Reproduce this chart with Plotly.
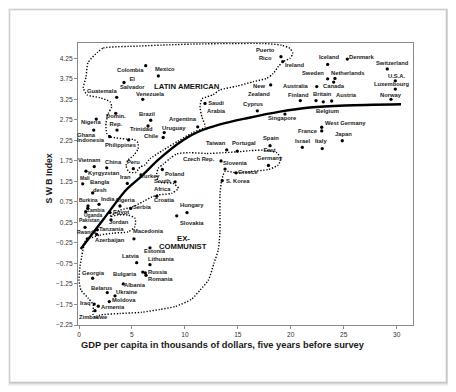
import plotly.graph_objects as go

# ---------------- data ----------------
countries = [
    "Colombia", "Mexico", "El Salvador", "Guatemala", "Venezuela", "Saudi Arabia",
    "Nigeria", "Domin. Rep.", "", "Brazil", "Trinidad", "Argentina", "Uruguay",
    "Chile", "Ghana", "Indonesia", "Philippines", "Taiwan", "Vietnam", "China",
    "Peru", "Kyrgyzstan", "Mali", "Iran", "Turkey", "Poland", "South Africa",
    "Bangladesh", "Burkina", "India", "Algeria", "Zambia", "Uganda", "Egypt",
    "Serbia", "Croatia", "Hungary", "Slovakia", "Pakistan", "Jordan", "Tanzania",
    "Rwanda", "Azerbaijan", "Macedonia", "Estonia", "Latvia", "Lithuania",
    "Georgia", "Bulgaria", "Russia", "Romania", "Albania", "Belarus", "Ukraine",
    "Moldova", "Iraq", "Armenia", "Zimbabwe", "Puerto Rico", "Ireland", "Iceland",
    "Denmark", "Switzerland", "Sweden", "Netherlands", "Canada", "Australia",
    "U.S.A.", "Luxembourg", "Norway", "New Zealand", "Finland", "Britain",
    "Belgium", "Austria", "Cyprus", "Singapore", "West Germany", "France", "Japan",
    "Israel", "Italy", "Spain", "Portugal", "East Germany", "Czech Rep.",
    "Slovenia", "Greece", "S. Korea",
]
gdp_thousands = [
    6.30, 7.49, 4.25, 3.56, 6.02, 11.90,
    1.63, 3.47, 3.59, 6.77, 6.52, 11.21, 8.05,
    7.95, 1.39, 2.90, 4.69, 13.95, 1.44, 2.62,
    5.13, 0.66, 0.35, 4.56, 5.85, 7.87, 9.07,
    1.29, 0.85, 1.89, 3.87, 0.82, 0.63, 2.93,
    4.88, 7.34, 10.20, 9.23, 0.57, 3.02, 1.73,
    1.67, 0.78, 5.19, 6.70, 5.45, 6.70,
    1.29, 6.02, 6.26, 6.33, 4.18, 2.67, 3.40,
    2.86, 1.44, 1.82, 1.51, 19.07, 19.24, 23.48,
    25.34, 29.11, 23.48, 24.17, 24.05, 22.45,
    29.87, 29.87, 29.46, 18.10, 20.90, 22.38,
    23.07, 23.86, 16.84, 19.45, 22.92, 22.92, 24.86,
    21.09, 22.97, 18.04, 14.95, 17.89, 13.41,
    13.79, 14.83, 13.53,
]
swb_index = [
    4.07, 3.82, 3.66, 3.30, 3.25, 3.15,
    2.77, 2.91, 2.50, 2.74, 2.60, 2.58, 2.44,
    2.32, 2.50, 2.34, 2.26, 2.02, 1.61, 1.58,
    1.56, 1.50, 1.19, 1.20, 1.41, 1.54, 1.24,
    0.97, 0.65, 0.69, 0.65, 0.59, 0.51, 0.49,
    0.59, 0.89, 0.49, 0.41, 0.13, 0.31, 0.07,
    -0.04, -0.15, -0.15, -0.37, -0.73, -0.78,
    -1.11, -0.96, -0.98, -1.04, -1.25, -1.46, -1.54,
    -1.68, -1.74, -1.79, -1.90, 4.29, 4.17, 4.10,
    4.23, 3.99, 3.75, 3.76, 3.67, 3.56,
    3.70, 3.50, 3.25, 3.60, 3.22, 3.22,
    3.19, 3.21, 2.97, 2.89, 2.57, 2.48, 2.24,
    2.08, 2.05, 2.12, 1.99, 1.64, 1.75,
    1.55, 1.46, 1.27,
]

# fitted curve
fit_gdp = [0.16, 2.29, 4.44, 5.92, 7.50, 9.85, 11.27, 13.31, 15.84, 18.98, 21.81, 25.12, 30.41]
fit_swb = [-0.40, 0.32, 1.04, 1.38, 1.78, 2.26, 2.46, 2.64, 2.79, 2.95, 3.05, 3.10, 3.13]

# dotted outline of the Latin American group
latin_gdp = [1.75, 2.30, 5.76, 8.59, 11.43, 14.26, 17.40, 19.14, 19.92, 20.18, 19.92, 19.29,
             18.82, 18.35, 17.72, 16.46, 14.89, 13.31, 12.65, 11.61, 11.43, 11.61, 11.90,
             10.67, 9.35, 7.93, 6.70, 6.23, 5.76, 5.38, 4.72, 4.44, 4.63, 5.19, 5.57, 5.57,
             5.19, 4.50, 2.93, 2.62, 2.55, 2.77, 3.09, 2.93, 1.98, 0.76, 0.41, 0.66, 0.85, 1.75]
latin_swb = [4.40, 4.50, 4.55, 4.58, 4.60, 4.61, 4.61, 4.57, 4.49, 4.37, 4.25, 4.17,
             4.05, 3.88, 3.76, 3.68, 3.57, 3.48, 3.36, 3.26, 3.06, 2.82, 2.58,
             2.43, 2.23, 2.01, 1.80, 1.65, 1.60, 1.47, 1.48, 1.63, 1.77, 1.89, 2.04, 2.19,
             2.27, 2.28, 2.34, 2.42, 2.67, 2.91, 3.07, 3.19, 3.29, 3.36, 3.53, 3.79, 4.14, 4.40]

# dotted outline of the ex-communist group
excom_gdp = [0.66, 1.98, 3.21, 4.63, 5.29, 5.29, 4.63, 3.56, 2.93, 3.87, 4.98, 6.07, 6.86,
             7.49, 8.75, 9.38, 8.90, 7.49, 7.34, 7.49, 7.96, 8.59, 9.23, 10.48, 12.06, 13.63,
             14.95, 16.15, 17.56, 18.67, 19.05, 18.82, 17.88, 16.15, 14.89, 13.79, 13.47,
             13.31, 13.31, 13.31, 13.15, 12.75, 12.21, 11.43, 10.64, 9.07, 7.65, 5.92, 3.87,
             1.98, 1.61, 1.32, 1.35, 0.85, 0.19, 0.00, 0.09, 0.25, 0.41, 0.66]
excom_swb = [-0.18, -0.06, -0.01, 0.02, 0.15, 0.35, 0.43, 0.43, 0.39, 0.55, 0.62, 0.76, 0.87,
             0.92, 0.96, 1.08, 1.20, 1.24, 1.45, 1.57, 1.67, 1.81, 1.92, 1.95, 1.93, 1.95,
             1.97, 2.00, 2.01, 1.95, 1.81, 1.65, 1.54, 1.49, 1.46, 1.49, 1.28,
             0.91, 0.43, 0.02, -0.42, -0.74, -1.16, -1.40, -1.62, -1.80, -1.87, -1.94, -1.97,
             -2.01, -2.08, -1.98, -1.76, -1.59, -1.40, -1.15, -0.83, -0.59, -0.38, -0.18]

x_ticks = [0, 5, 10, 15, 20, 25, 30]
y_ticks = [4.25, 3.75, 3.25, 2.75, 2.25, 1.75, 1.25, 0.75, 0.25, -0.25, -0.75, -1.25, -1.75, -2.25]

group_labels = ["LATIN AMERICAN", "EX-", "COMMUNIST"]
group_gdp = [10.17, 9.85, 9.79]
group_swb = [3.56, -0.15, -0.34]

x_title = "GDP per capita in thousands of dollars, five years before survey"
y_title = "S W B Index"

# ---------------- label styling (pixel offsets of each label from its dot) ----------------
label_text = {
    "El Salvador": "El<br>Salvador", "Saudi Arabia": "Saudi<br>Arabia",
    "Domin. Rep.": "Domin.<br>Rep.", "South Africa": "South<br>Africa",
    "Bangladesh": "Bangla<br>desh", "Puerto Rico": "Puerto<br>Rico",
    "New Zealand": "New<br>Zealand", "East Germany": "East<br>Germany",
}
small_labels = {"Mali", "Burkina", "Zambia", "Uganda", "Pakistan", "Rwanda"}
offsets = {
    "Colombia": (-15, 4.6), "Mexico": (6.7, -7), "El Salvador": (8.5, 0.4),
    "Guatemala": (-14.7, -6.6), "Venezuela": (8, -5.3), "Saudi Arabia": (11.7, 3.2),
    "Nigeria": (-5.3, 3.3), "Domin. Rep.": (0, 7.2), "Brazil": (-3.2, -6),
    "Trinidad": (-6.8, 2.7), "Argentina": (-14.4, -7.4), "Uruguay": (9.4, -4.5),
    "Chile": (-12, -1), "Ghana": (-7, 4.5), "Indonesia": (-19, 3),
    "Philippines": (-8.2, 5.5), "Taiwan": (-10.4, -7.3), "Vietnam": (-4.8, -6.7),
    "China": (7.1, -6), "Peru": (0, -6.7), "Kyrgyzstan": (18, 2), "Mali": (2, -6),
    "Iran": (-1.6, -6), "Turkey": (9.5, 1), "Poland": (12.4, 4),
    "South Africa": (-12.7, 3.5), "Bangladesh": (7.8, -6.4), "Burkina": (0, -6),
    "India": (8.5, -5), "Algeria": (5, -6), "Zambia": (8, 1.5), "Uganda": (7.6, 3),
    "Egypt": (11, -1), "Serbia": (11.5, -1.6), "Croatia": (7.3, 4),
    "Hungary": (5, -8), "Slovakia": (15.7, 6.7), "Pakistan": (4.3, -7.3),
    "Jordan": (8, 2.5), "Tanzania": (13.7, -1), "Rwanda": (-10, -2.6),
    "Azerbaijan": (22.4, 1), "Macedonia": (14.3, -8), "Estonia": (4.8, 3.6),
    "Latvia": (-6, -6.7), "Lithuania": (12, -5.4), "Georgia": (1.3, -5),
    "Bulgaria": (-17.7, 2.3), "Russia": (13, -1), "Romania": (14, 3.5),
    "Albania": (12.2, 1), "Belarus": (-5.6, -5), "Ukraine": (12, -3.4),
    "Moldova": (15, -1.7), "Iraq": (-8.3, -0.7), "Armenia": (15, 1.3),
    "Zimbabwe": (-1.7, 6), "Puerto Rico": (-15.7, -3), "Ireland": (12, 3.6),
    "Iceland": (1.5, -7.6), "Denmark": (15, -2.3), "Switzerland": (5, -5.7),
    "Sweden": (-14.4, -6.3), "Netherlands": (13.4, -5.6), "Canada": (0, 3.7),
    "Australia": (-20.7, -1), "U.S.A.": (0.9, -4.5), "Luxembourg": (-3.6, -4.7),
    "Norway": (-0.2, -4.6), "New Zealand": (-11.5, 5.2), "Finland": (-2, -6),
    "Britain": (6.5, -6.4), "Belgium": (4, 9.3), "Austria": (15, -6),
    "Cyprus": (-4.8, -7), "Singapore": (-2.7, 4), "West Germany": (23.6, -4),
    "France": (-14.2, -0.3), "Japan": (1, -6.4), "Israel": (0.7, -6.3),
    "Italy": (-1.3, -7.7), "Spain": (0.8, -7.4), "Portugal": (6.7, -7.7),
    "East Germany": (1.5, -11), "Czech Rep.": (-21.8, -2), "Slovenia": (10.2, -5.7),
    "Greece": (12.2, -1), "S. Korea": (15.5, 0),
}

FONT = "Liberation Sans, Arial, sans-serif"

# the page body adds an 8px margin; the figure is sized so the plot area
# lands at page pixels x 78..413, y 43..325
BODY = 8
FIG_W, FIG_H = 456 - BODY, 392 - BODY
L, R, T, B = 78, 413, 43, 325  # page pixels


def px2paper_x(px):
    return (px - L) / (R - L)


def px2paper_y(py):
    return (B - py) / (B - T)


fig = go.Figure()

dotted = dict(color="black", width=1.4, dash="1.3px,1.7px", shape="spline", smoothing=0.6)
fig.add_trace(go.Scatter(x=latin_gdp, y=latin_swb, mode="lines", line=dotted,
                         hoverinfo="skip", showlegend=False))
fig.add_trace(go.Scatter(x=excom_gdp, y=excom_swb, mode="lines", line=dotted,
                         hoverinfo="skip", showlegend=False))

fig.add_trace(go.Scatter(x=fit_gdp, y=fit_swb, mode="lines",
                         line=dict(color="black", width=2.4, shape="spline", smoothing=0.8),
                         hoverinfo="skip", showlegend=False))

fig.add_trace(go.Scatter(x=gdp_thousands, y=swb_index, mode="markers",
                         marker=dict(color="black", size=3.3),
                         text=countries, showlegend=False))

annotations = []
for name, gx, sy in zip(countries, gdp_thousands, swb_index):
    if not name:
        continue
    dx, dy = offsets.get(name, (0, -6))
    small = name in small_labels
    annotations.append(dict(
        x=gx, y=sy, xref="x", yref="y", text=label_text.get(name, name),
        showarrow=False, xanchor="center", yanchor="middle",
        xshift=dx, yshift=-dy,
        font=dict(family=FONT, size=5.0 if small else 5.8, color="#1a1a1a",
                  weight="bold"),
    ))

for txt, gx, sy in zip(group_labels, group_gdp, group_swb):
    annotations.append(dict(
        x=gx, y=sy, xref="x", yref="y", text=txt, showarrow=False,
        xanchor="center", yanchor="middle",
        font=dict(family=FONT, size=7.7, color="#111", weight="bold"),
    ))

annotations.append(dict(
    x=px2paper_x(223), y=px2paper_y(345), xref="paper", yref="paper", text=x_title,
    showarrow=False, xanchor="center", yanchor="middle",
    font=dict(family=FONT, size=9.3, color="#1a1a1a", weight="bold"),
))
annotations.append(dict(
    x=px2paper_x(48), y=px2paper_y(178.5), xref="paper", yref="paper", text=y_title,
    showarrow=False, xanchor="center", yanchor="middle", textangle=-90,
    font=dict(family=FONT, size=8.7, color="#1a1a1a", weight="bold"),
))

# decorative card with soft shadow
shapes = []
for off, alpha in [(4, 0.035), (3, 0.05), (2, 0.07), (1, 0.09)]:
    shapes.append(dict(type="rect", xref="paper", yref="paper", layer="below",
                       x0=px2paper_x(10 - off / 2), x1=px2paper_x(446 + off),
                       y0=px2paper_y(382 + off), y1=px2paper_y(10 - off / 2),
                       line=dict(width=0), fillcolor=f"rgba(0,0,0,{alpha})"))
shapes.append(dict(type="rect", xref="paper", yref="paper", layer="below",
                   x0=px2paper_x(10), x1=px2paper_x(446),
                   y0=px2paper_y(382), y1=px2paper_y(10),
                   line=dict(width=0.6, color="#cfcfcf"), fillcolor="white"))

axis_common = dict(showgrid=False, zeroline=False, showline=True, linecolor="#8a8a8a",
                   linewidth=1, mirror=True, ticks="outside", ticklen=3,
                   tickcolor="#8a8a8a", tickwidth=1,
                   tickfont=dict(family=FONT, size=6.6, color="#333"))

fig.update_layout(
    width=FIG_W, height=FIG_H,
    margin=dict(l=L - BODY, r=456 - R, t=T - BODY, b=392 - B, pad=0),
    paper_bgcolor="white", plot_bgcolor="rgba(0,0,0,0)",
    xaxis=dict(range=[-0.094, 31.54], tickvals=x_ticks, automargin=False, **axis_common),
    yaxis=dict(range=[-2.25, 4.623], tickvals=y_ticks, tickformat=".2f",
               automargin=False, **axis_common),
    annotations=annotations, shapes=shapes,
    showlegend=False,
)

fig.write_html("out.html")
